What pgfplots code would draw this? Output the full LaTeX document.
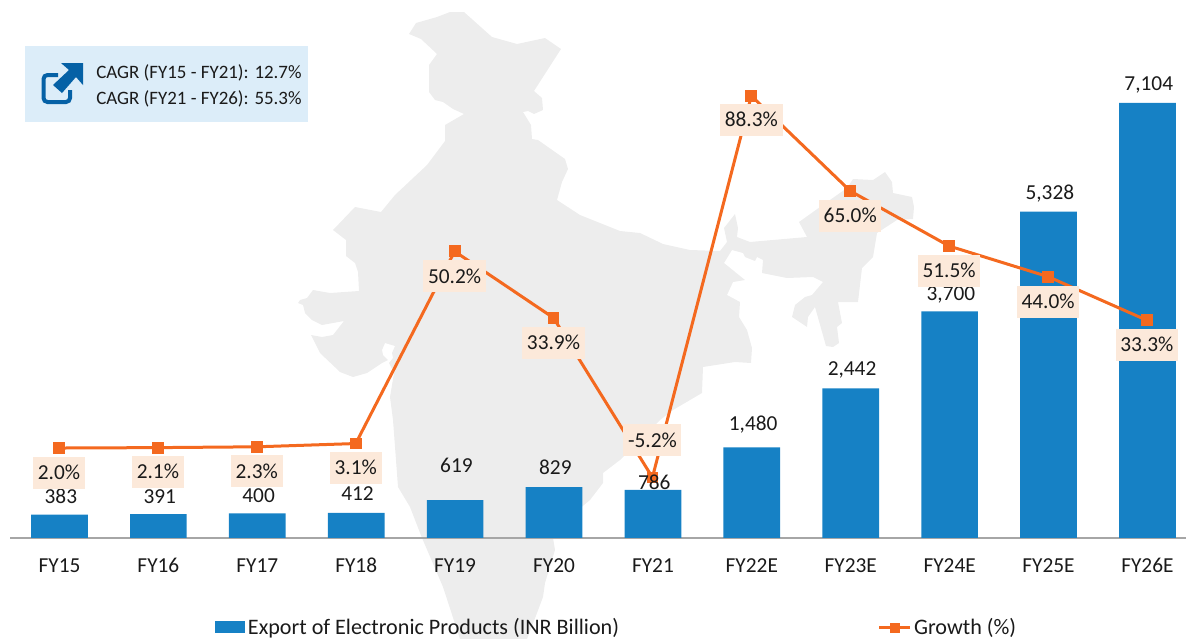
\documentclass[border=0pt]{standalone}
\usepackage{pgfplots}
\usepackage{pgfplotstable}
\usepackage{fontspec}
\pgfplotsset{compat=1.18}
\setmainfont{Carlito}
\definecolor{barblue}{HTML}{1681C5}
\definecolor{lineor}{HTML}{F4691F}
\definecolor{boxor}{HTML}{FCE9DA}
\definecolor{mapgrey}{HTML}{EDEDED}
\definecolor{infobg}{HTML}{DCEDF9}
\definecolor{iconblue}{HTML}{0561A6}
\definecolor{txt}{HTML}{1A1A1A}
\pgfplotstableread{
x v lab dy
0 383 383 13.4
1 391 391 13.1
2 400 400 13.4
3 412 412 14
4 619 619 25.5
5 829 829 14.3
6 786 786 5.3
7 1480 1,480 18
8 2442 2,442 14.6
9 3700 3,700 13.5
10 5328 5,328 14
11 7104 7,104 14.3
}\exporttable
\pgfplotstableread{
x g lab dy
0 2.0 2.0\% -18.75
1 2.1 2.1\% -18.4
2 2.3 2.3\% -18.4
3 3.1 3.1\% -18.4
4 50.2 50.2\% -18.75
5 33.9 33.9\% -18.75
6 -5.2 -5.2\% 27.75
7 88.3 88.3\% -18
8 65.0 65.0\% -18.75
9 51.5 51.5\% -18.75
10 44.0 44.0\% -18.75
11 33.3 33.3\% -18.75
}\growthtable
\pgfplotsset{base/.style={
  at={(0,0)},anchor=south west,scale only axis,width=889.5pt,height=479.25pt},
  barsy/.style={xmin=-0.6017,xmax=11.390,ymin=-1649.5,ymax=8786},
  liney/.style={xmin=-0.5966,xmax=11.395,ymin=-44.8,ymax=111.8}}
\begin{document}
\begin{tikzpicture}
\useasboundingbox (0,0) rectangle (889.5pt,479.25pt);
% background: map silhouette and info box, in pixel coordinates of the page
\begin{axis}[base,hide axis,xmin=0,xmax=1186,ymin=0,ymax=639,y dir=reverse]
\addplot[fill=mapgrey,draw=none] coordinates {
(450,12)(464,12)(492,37)(517,44)(545,38)(561,49)(534,91)(542,98)(543,110)(534,114)(528,111)(523,112)
(531,125)(532,139)(538,140)(565,159)(568,169)(562,182)(557,200)(580,215)(620,231)
(640,233)(663,244)(690,250)(720,251)(727,242)(724,228)(735,214)(738,228)(737,237)(750,242)(807,237)
(799,222)(820,207)(847,188)(853,179)(873,180)(885,172)(892,182)(893,193)(912,197)(914,207)(913,219)
(897,220)(877,233)(873,257)(862,268)(858,302)(838,302)(842,323)(837,327)(839,343)(833,347)(826,346)
(815,307)(808,317)(807,327)(792,317)(795,305)(805,297)(812,295)(823,282)(813,277)(787,278)(762,273)
(763,260)(757,257)(755,261)(745,257)(743,253)(732,250)(724,263)(745,280)(733,282)(727,295)(740,302)
(739,317)(747,330)(752,348)(751,363)(735,362)(703,367)(702,393)(673,410)(660,420)(620,460)(603,473)
(603,483)(590,500)(560,525)(553,538)(555,550)(545,583)(543,597)(537,613)(527,639)(460,639)(443,587)
(422,538)(410,507)(398,487)(393,420)(390,397)(394,373)(389,363)(393,358)(392,353)(395,346)(385,343)
(382,350)(383,355)(388,360)(382,363)(367,373)(353,377)(340,372)(320,353)(311,335)(322,337)(333,335)
(344,321)(333,323)(322,325)(312,320)(305,313)(303,305)(298,303)(300,300)(307,298)(313,290)(330,293)
(359,291)(358,272)(355,263)(346,256)(346,240)(333,230)(355,207)(381,212)(395,195)(427,165)(445,141)
(445,125)(464,114)(453,109)(443,102)(435,100)(429,92)(429,65)(437,54)(421,39)(409,34)(416,23)(437,17)
} -- cycle;
\addplot[fill=infobg,draw=none] coordinates {(25,46)(308,46)(308,122)(25,122)} -- cycle;
\addplot[fill=iconblue,draw=none] coordinates {(61,63)(83,63)(83,85)(76,77)(62,93)(53,85)(69,70)} -- cycle;
\addplot[draw=iconblue,line width=3pt,rounded corners=3pt] coordinates {(58,75)(43.5,75)(43.5,102)(70,102)(70,90)};
\node[anchor=west,font=\fontsize{14.2}{14.2}\selectfont,text=txt,inner sep=0pt] at (axis cs:96,73) {CAGR (FY15 - FY21): 12.7\%};
\node[anchor=west,font=\fontsize{14.2}{14.2}\selectfont,text=txt,inner sep=0pt] at (axis cs:96,99) {CAGR (FY21 - FY26): 55.3\%};
\end{axis}
% bars, axis line, tick labels, legend
\begin{axis}[base,barsy,
  axis x line*=middle,axis y line=none,
  x axis line style={-,draw=black!35,line width=1pt,shorten <=7.5pt},
  major tick length=0pt,
  xtick={0,...,11},
  xticklabels={FY15,FY16,FY17,FY18,FY19,FY20,FY21,FY22E,FY23E,FY24E,FY25E,FY26E},
  xticklabel style={anchor=center,yshift=-21pt,font=\fontsize{16}{16}\selectfont,text=txt,
    text height=10.5pt,text depth=0pt},
  clip=false,
  legend columns=2,
  legend style={at={(0.1813,0.0180)},anchor=west,draw=none,fill=none,inner sep=0pt,
    font=\fontsize{16.6}{16.6}\selectfont,text=txt,
    /tikz/column 2/.style={column sep=192pt}},
]
\addplot[ybar,bar width=42.5pt,fill=barblue,draw=none,
  legend image code/.code={\fill[barblue] (0pt,-4.5pt) rectangle (22.5pt,4.5pt);},
] table[x=x,y=v] {\exporttable};
\addlegendentry{Export of Electronic Products (INR Billion)}
\addlegendimage{legend image code/.code={
  \draw[lineor,line width=2.25pt] (0pt,0pt)--(23pt,0pt);
  \fill[lineor] (8pt,-3.3pt) rectangle (15pt,3.3pt);}}
\addlegendentry{Growth (\%)}
\end{axis}
% growth line
\begin{axis}[base,liney,hide axis,clip=false]
\addplot[lineor,line width=2.25pt,mark=square*,mark size=3.3pt,mark options={solid,fill=lineor,draw=none}]
  table[x=x,y=g] {\growthtable};
\end{axis}
% bar value labels (above the line)
\begin{axis}[base,barsy,hide axis,clip=false]
\addplot[draw=none,mark=none,
  point meta=explicit symbolic,
  visualization depends on={\thisrow{dy} \as \dy},
  nodes near coords={\pgfplotspointmeta},
  every node near coord/.append style={anchor=center,xshift=1pt,yshift=\dy,text=txt,
    font=\fontsize{16}{16}\selectfont,text height=10pt,text depth=0pt,inner sep=0pt},
] table[x=x,y=v,meta=lab] {\exporttable};
\end{axis}
% growth labels (on top)
\begin{axis}[base,liney,hide axis,clip=false]
\addplot[draw=none,mark=none,
  point meta=explicit symbolic,
  visualization depends on={\thisrow{dy} \as \dy},
  nodes near coords={\pgfplotspointmeta},
  every node near coord/.append style={anchor=center,yshift=\dy,text=txt,fill=boxor,
    font=\fontsize{16}{16}\selectfont,text height=10pt,text depth=0pt,inner xsep=3.5pt,inner ysep=7pt},
] table[x=x,y=g,meta=lab] {\growthtable};
\end{axis}
\end{tikzpicture}
\end{document}
